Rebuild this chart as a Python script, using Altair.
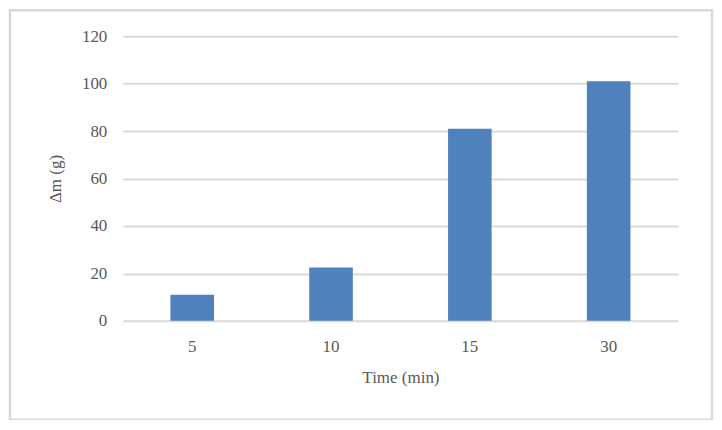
import altair as alt
import pandas as pd

times = ["5", "10", "15", "30"]
delta_m = [11, 22.5, 81, 101]
y_ticks = [0, 20, 40, 60, 80, 100, 120]

df = pd.DataFrame({"time": times, "dm": delta_m})

FONT = "Liberation Serif"
TXT = "#595959"
GRID = "#d9d9d9"

bars = alt.Chart(df).mark_bar(color="#4f81bd").encode(
    x=alt.X(
        "time:N",
        sort=times,
        scale=alt.Scale(paddingInner=0.686, paddingOuter=0.343),
        axis=alt.Axis(
            title="Time (min)",
            labelAngle=0,
            domain=False,
            ticks=False,
            tickSize=0,
            grid=False,
            labelPadding=26,
            labelBaseline="middle",
            titleY=57,
            titleBaseline="middle",
        ),
    ),
    y=alt.Y(
        "dm:Q",
        scale=alt.Scale(domain=[0, 120], nice=False),
        axis=alt.Axis(
            title="Δm (g)",
            values=y_ticks,
            domain=False,
            ticks=False,
            tickSize=0,
            labelPadding=16,
            gridColor=GRID,
            gridWidth=2,
            titleX=-67,
            titleY=142.5,
            titleAngle=-90,
            titleAlign="center",
            titleBaseline="middle",
        ),
    ),
)

border = alt.Chart(alt.Data(values=[{"a": 1}])).mark_rect(
    fill=None, stroke=GRID, strokeWidth=2.5, filled=False
).encode(
    x=alt.value(-113),
    x2=alt.value(590),
    y=alt.value(-26),
    y2=alt.value(384),
)

chart = (
    alt.layer(border, bars)
    .properties(
        width=556,
        height=285,
        autosize=alt.AutoSizeParams(type="none"),
        padding={"left": 115, "top": 28, "right": 36, "bottom": 99},
    )
    .configure_view(stroke=None)
    .configure_axis(
        labelFont=FONT,
        titleFont=FONT,
        labelFontSize=17,
        titleFontSize=17,
        labelColor=TXT,
        titleColor=TXT,
        titleFontWeight="normal",
    )
)

chart.save("out.html", embed_options={"renderer": "svg", "actions": False})
